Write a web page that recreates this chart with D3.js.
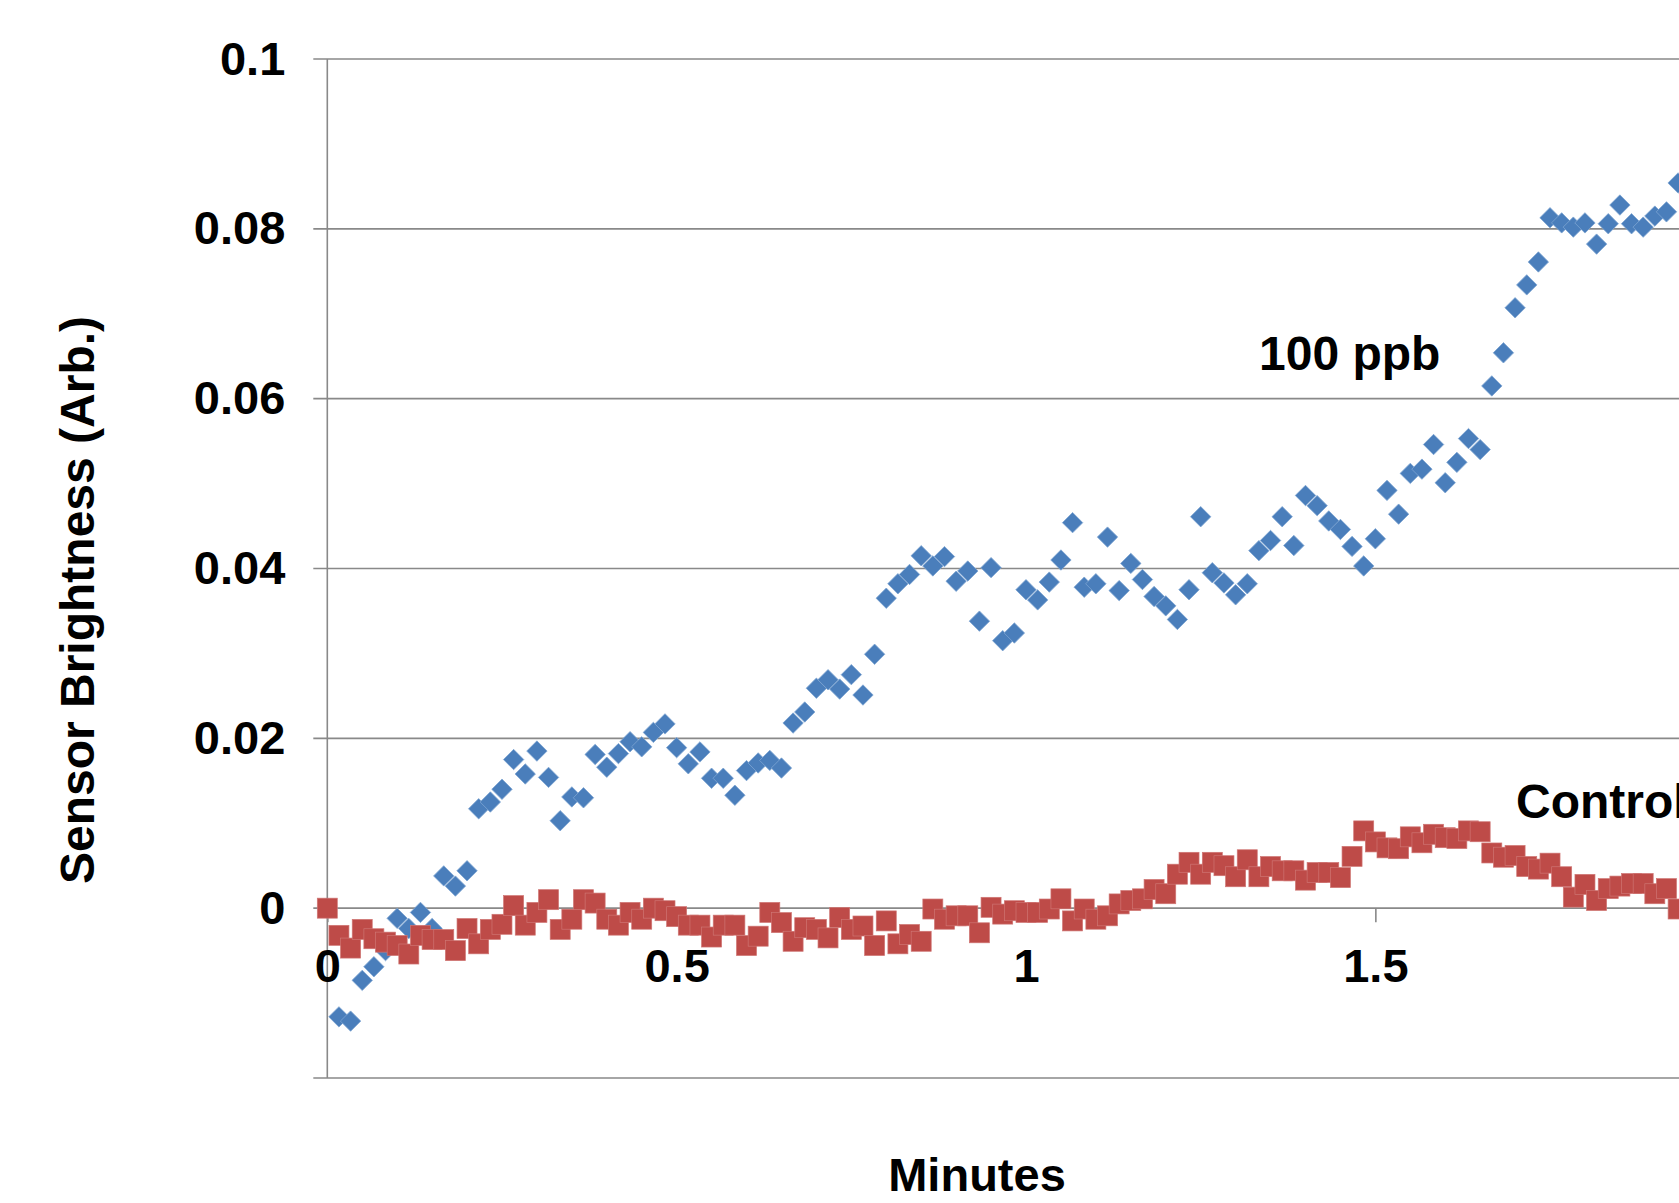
<!DOCTYPE html>
<html>
<head>
<meta charset="utf-8">
<script src="https://cdn.jsdelivr.net/npm/d3@7/dist/d3.min.js"></script>
<style>
  html, body { margin: 0; padding: 0; background: #fff; overflow: hidden; }
  svg { display: block; }
  text { font-family: "Liberation Sans", Arial, sans-serif; font-weight: bold; fill: #000; }
</style>
</head>
<body>
<svg id="chart" width="1679" height="1203"></svg>
<script>
// ---- data ----
const seconds = [0,1,2,3,4,5,6,7,8,9,10,11,12,13,14,15,16,17,18,19,20,21,22,23,24,25,26,27,28,29,
  30,31,32,33,34,35,36,37,38,39,40,41,42,43,44,45,46,47,48,49,50,51,52,53,54,55,56,57,58,59,
  60,61,62,63,64,65,66,67,68,69,70,71,72,73,74,75,76,77,78,79,80,81,82,83,84,85,86,87,88,89,
  90,91,92,93,94,95,96,97,98,99,100,101,102,103,104,105,106,107,108,109,110,111,112,113,114,115,116];

const ppb100 = [0,-0.0128,-0.0133,-0.0085,-0.0069,-0.0050,-0.0012,-0.0024,-0.0005,-0.0024,
  0.0038,0.0026,0.0044,0.0117,0.0125,0.0140,0.0175,0.0158,0.0185,0.0154,
  0.0103,0.0131,0.0130,0.0181,0.0166,0.0182,0.0196,0.0190,0.0207,0.0217,
  0.0189,0.0170,0.0184,0.0153,0.0153,0.0133,0.0162,0.0171,0.0174,0.0165,
  0.0218,0.0231,0.0259,0.0269,0.0258,0.0275,0.0251,0.0299,0.0365,0.0382,
  0.0393,0.0415,0.0403,0.0414,0.0385,0.0397,0.0338,0.0401,0.0315,0.0324,
  0.0375,0.0363,0.0384,0.0410,0.0454,0.0378,0.0382,0.0437,0.0374,0.0406,
  0.0387,0.0367,0.0356,0.0340,0.0375,0.0461,0.0395,0.0383,0.0369,0.0382,
  0.0421,0.0433,0.0461,0.0427,0.0486,0.0474,0.0456,0.0446,0.0426,0.0403,
  0.0435,0.0492,0.0464,0.0512,0.0517,0.0546,0.0501,0.0525,0.0553,0.0540,
  0.0615,0.0654,0.0707,0.0734,0.0761,0.0813,0.0807,0.0802,0.0807,0.0782,
  0.0806,0.0828,0.0806,0.0802,0.0815,0.0820,0.0854];

const control = [0,-0.0032,-0.0047,-0.0025,-0.0036,-0.0040,-0.0044,-0.0054,-0.0032,-0.0037,
  -0.0037,-0.0050,-0.0024,-0.0042,-0.0025,-0.0019,0.0003,-0.0020,-0.0005,0.0010,
  -0.0025,-0.0013,0.0010,0.0006,-0.0013,-0.0020,-0.0005,-0.0013,0.0000,-0.0003,
  -0.0010,-0.0020,-0.0020,-0.0034,-0.0020,-0.0020,-0.0044,-0.0033,-0.0005,-0.0017,
  -0.0039,-0.0023,-0.0025,-0.0035,-0.0011,-0.0025,-0.0021,-0.0044,-0.0015,-0.0042,
  -0.0031,-0.0039,-0.0001,-0.0013,-0.0009,-0.0009,-0.0029,0.0001,-0.0007,-0.0003,
  -0.0005,-0.0005,-0.0001,0.0011,-0.0015,-0.0001,-0.0013,-0.0009,0.0005,0.0009,
  0.0011,0.0022,0.0017,0.0040,0.0054,0.0040,0.0054,0.0050,0.0037,0.0057,
  0.0037,0.0049,0.0044,0.0044,0.0033,0.0042,0.0042,0.0036,0.0061,0.0091,
  0.0078,0.0071,0.0070,0.0084,0.0077,0.0087,0.0083,0.0082,0.0091,0.0090,
  0.0065,0.0060,0.0062,0.0049,0.0046,0.0053,0.0037,0.0013,0.0028,0.0009,
  0.0023,0.0026,0.0029,0.0029,0.0017,0.0023,-0.0001];

const yTicks = [-0.02, 0, 0.02, 0.04, 0.06, 0.08, 0.1];
const yTickLabels = ["", "0", "0.02", "0.04", "0.06", "0.08", "0.1"];
const xTicks = [0, 0.5, 1, 1.5];
const xTickLabels = ["0", "0.5", "1", "1.5"];
const seriesNames = ["100 ppb", "Control"];

// ---- layout ----
const W = 1679, H = 1203;
const x0 = 327.3, pxPerMin = 698.7;
const x = d3.scaleLinear().domain([0, 2.5]).range([x0, x0 + 2.5 * pxPerMin]);
const y = d3.scaleLinear().domain([-0.02, 0.1]).range([1078, 59]);
const toMin = s => s / 60;

const svg = d3.select("#chart");
const gridColor = "#898989";
const FONT = '"Liberation Sans", Arial, sans-serif';

// gridlines
svg.append("g").selectAll("line").data(yTicks).join("line")
  .attr("x1", x0 - 14).attr("x2", W)
  .attr("y1", d => y(d)).attr("y2", d => y(d))
  .attr("stroke", gridColor).attr("stroke-width", 1.6);

// y axis
const yAxis = d3.axisLeft(y).tickValues(yTicks).tickSize(0).tickPadding(42)
  .tickFormat((d, i) => yTickLabels[i]);
const gy = svg.append("g").attr("transform", `translate(${x0},0)`).call(yAxis);
gy.select(".domain").remove();
gy.selectAll("text").style("font-size", "47px").style("font-family", FONT)
  .style("font-weight", "bold").attr("fill", "#000");

svg.append("line").attr("x1", x0).attr("x2", x0).attr("y1", y(0.1)).attr("y2", y(-0.02))
  .attr("stroke", gridColor).attr("stroke-width", 1.6);

// x axis at y=0
const xAxis = d3.axisBottom(x).tickValues(xTicks).tickSize(14).tickPadding(26)
  .tickFormat((d, i) => xTickLabels[i]);
const gx = svg.append("g").attr("transform", `translate(0,${y(0)})`).call(xAxis);
gx.select(".domain").remove();
gx.selectAll("line").attr("stroke", gridColor).attr("stroke-width", 1.6);
gx.selectAll("text").style("font-size", "47px").style("font-family", FONT)
  .style("font-weight", "bold").attr("fill", "#000");

// series: 100 ppb diamonds (drawn first, control on top)
const dm = 10.2;
svg.append("g").selectAll("path").data(ppb100).join("path")
  .attr("transform", (d, i) => `translate(${x(toMin(seconds[i]))},${y(d)})`)
  .attr("d", `M0,${-dm}L${dm},0L0,${dm}L${-dm},0Z`)
  .attr("fill", "#4a7ebb").attr("stroke", "#7ea4d2").attr("stroke-width", 0.8);

// series: control squares
const sq = 20;
svg.append("g").selectAll("rect").data(control).join("rect")
  .attr("x", (d, i) => x(toMin(seconds[i])) - sq / 2)
  .attr("y", d => y(d) - sq / 2)
  .attr("width", sq).attr("height", sq)
  .attr("fill", "#be4b48").attr("stroke", "#cf7573").attr("stroke-width", 0.7);

// annotations
svg.append("text").attr("x", 1259).attr("y", 370).style("font-size", "48px").text(seriesNames[0]);
svg.append("text").attr("x", 1516).attr("y", 818).style("font-size", "48px").text(seriesNames[1]);

// axis titles
svg.append("text").attr("x", 977).attr("y", 1191).attr("text-anchor", "middle")
  .style("font-size", "47px").text("Minutes");
svg.append("text").attr("transform", "translate(94,600) rotate(-90)").attr("text-anchor", "middle")
  .style("font-size", "48px").text("Sensor Brightness (Arb.)");
</script>
</body>
</html>
